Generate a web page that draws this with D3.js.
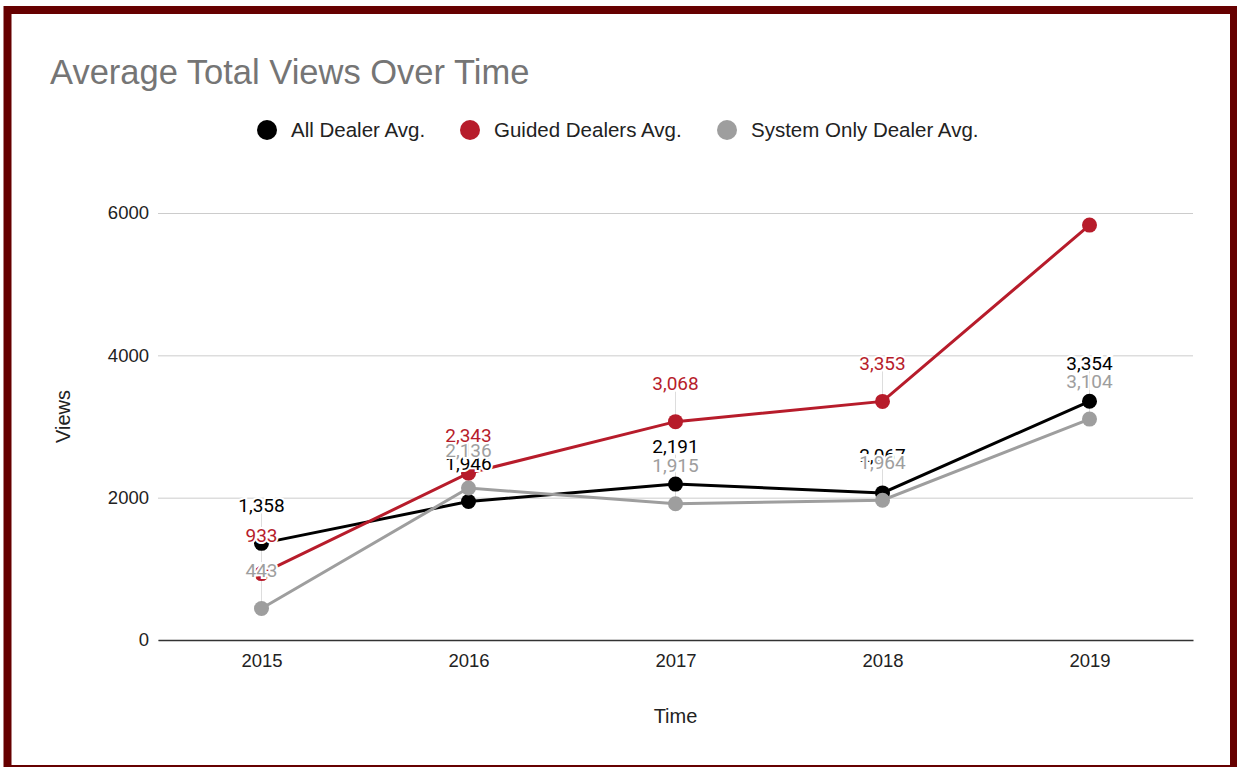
<!DOCTYPE html>
<html>
<head>
<meta charset="utf-8">
<script src="https://cdn.jsdelivr.net/npm/d3@7"></script>
<style>
  body { margin: 0; background: #fff; }
  svg { display: block; }
</style>
</head>
<body>
<div id="chart"></div>
<script>
var years = ["2015", "2016", "2017", "2018", "2019"];
var allDealer = [1358, 1946, 2191, 2067, 3354];
var guided = [933, 2343, 3068, 3353, 5830];
var systemOnly = [443, 2136, 1915, 1964, 3104];
var yTicks = [0, 2000, 4000, 6000];
var seriesNames = ["All Dealer Avg.", "Guided Dealers Avg.", "System Only Dealer Avg."];
var seriesColors = ["#000000", "#b71c2b", "#9e9e9e"];
// last red point has no label in the original
var showLabel = [[1, 1, 1, 1, 1], [1, 1, 1, 1, 0], [1, 1, 1, 1, 1]];

var svgWidth = 1237;
var svgHeight = 767;

var margin = { top: 213, right: 44, bottom: 127, left: 158 };
var width = svgWidth - margin.left - margin.right;
var height = svgHeight - margin.top - margin.bottom;

var svg = d3.select("#chart")
  .append("svg")
  .attr("width", svgWidth)
  .attr("height", svgHeight);

// frame (bottom edge is cropped in the original)
svg.append("rect")
  .attr("x", 7.5).attr("y", 10)
  .attr("width", 1226.5).attr("height", 759)
  .attr("fill", "#fff")
  .attr("stroke", "#660000")
  .attr("stroke-width", 8);

svg.append("text")
  .attr("x", 50).attr("y", 84)
  .style("font-family", "Liberation Sans, Arial, sans-serif")
  .style("font-size", "34.5px")
  .style("fill", "#757575")
  .text("Average Total Views Over Time");

// legend
var legendX = [267, 470, 727];
var legend = svg.selectAll(".legend")
  .data(seriesNames)
  .enter()
  .append("g")
  .attr("transform", (d, i) => `translate(${legendX[i]}, 130)`);
legend.append("circle")
  .attr("r", 10)
  .attr("fill", (d, i) => seriesColors[i]);
legend.append("text")
  .attr("x", 24).attr("y", 7)
  .style("font-family", "Liberation Sans, Arial, sans-serif")
  .style("font-size", "20.5px")
  .style("fill", "#222")
  .text(d => d);

var chart = svg.append("g")
  .attr("transform", `translate(${margin.left}, ${margin.top})`);

var xScale = d3.scalePoint()
  .domain(years)
  .range([0, width])
  .padding(0.5);

var yScale = d3.scaleLinear()
  .domain([0, 6000])
  .range([height, 0]);

var leftAxis = d3.axisLeft(yScale)
  .tickValues(yTicks)
  .tickSize(-width)
  .tickPadding(9)
  .tickFormat(d3.format("d"));

var yAxis = chart.append("g").call(leftAxis);
yAxis.select(".domain").remove();
yAxis.selectAll(".tick line")
  .attr("stroke", "#cccccc")
  .attr("stroke-width", 1);
yAxis.selectAll(".tick text")
  .style("font-family", "Liberation Sans, Arial, sans-serif")
  .style("font-size", "18.5px")
  .style("fill", "#222");

var bottomAxis = d3.axisBottom(xScale)
  .tickSize(0)
  .tickPadding(14);
var xAxis = chart.append("g")
  .attr("transform", `translate(0, ${height})`)
  .call(bottomAxis);
xAxis.select(".domain")
  .attr("stroke", "#333")
  .attr("stroke-width", 1.5);
xAxis.selectAll(".tick text")
  .style("font-family", "Liberation Sans, Arial, sans-serif")
  .style("font-size", "18.5px")
  .style("fill", "#222");

chart.append("text")
  .attr("transform", "rotate(-90)")
  .attr("x", -(height / 2) + 10)
  .attr("y", -88)
  .style("text-anchor", "middle")
  .style("font-family", "Liberation Sans, Arial, sans-serif")
  .style("font-size", "20px")
  .style("fill", "#222")
  .text("Views");

chart.append("text")
  .attr("x", xScale("2017"))
  .attr("y", height + 83)
  .style("text-anchor", "middle")
  .style("font-family", "Liberation Sans, Arial, sans-serif")
  .style("font-size", "20px")
  .style("fill", "#222")
  .text("Time");

var series = [allDealer, guided, systemOnly].map(function (vals, i) {
  return {
    color: seriesColors[i],
    points: vals.map((v, j) => ({ year: years[j], value: v, show: showLabel[i][j] }))
  };
});

var line = d3.line()
  .x(d => xScale(d.year))
  .y(d => yScale(d.value));

// leader lines
series.forEach(function (s) {
  chart.selectAll(null)
    .data(s.points.filter(p => p.show))
    .enter()
    .append("line")
    .attr("x1", d => xScale(d.year))
    .attr("x2", d => xScale(d.year))
    .attr("y1", d => yScale(d.value) - 30)
    .attr("y2", d => yScale(d.value))
    .attr("stroke", "#dddddd")
    .attr("stroke-width", 1);
});

series.forEach(function (s) {
  chart.append("path")
    .datum(s.points)
    .attr("fill", "none")
    .attr("stroke", s.color)
    .attr("stroke-width", 3)
    .attr("d", line);

  chart.selectAll(null)
    .data(s.points)
    .enter()
    .append("circle")
    .attr("cx", d => xScale(d.year))
    .attr("cy", d => yScale(d.value))
    .attr("r", 7.5)
    .attr("fill", s.color);
});

// data labels on top, with white halo
series.forEach(function (s) {
  chart.selectAll(null)
    .data(s.points.filter(p => p.show))
    .enter()
    .append("text")
    .attr("x", d => xScale(d.year))
    .attr("y", d => yScale(d.value) - 38)
    .attr("dy", "0.35em")
    .style("text-anchor", "middle")
    .style("font-family", "Roboto, sans-serif")
    .style("font-size", "19px")
    .style("fill", s.color)
    .style("stroke", "#fff")
    .style("stroke-width", 4)
    .style("paint-order", "stroke")
    .text(d => d3.format(",")(d.value));
});
</script>
</body>
</html>
